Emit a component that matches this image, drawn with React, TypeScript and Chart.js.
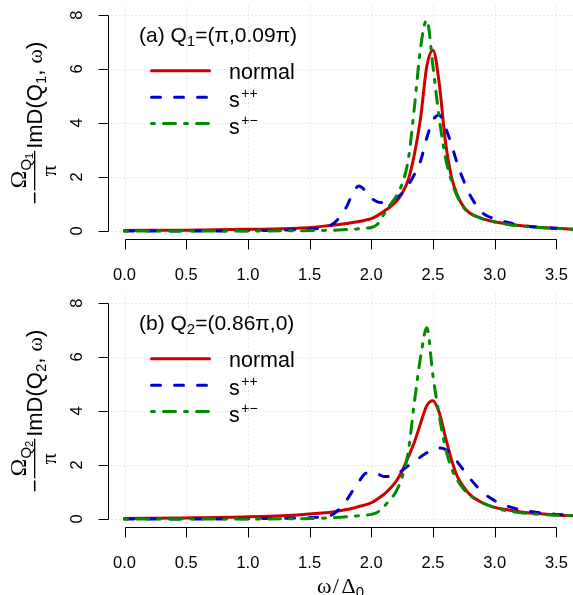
import React, { useEffect, useRef } from 'react';
import { Chart, registerables } from 'chart.js';

Chart.register(...registerables);

// ---------- data ----------
const OMEGA = [0, 0.5, 1.0, 1.4, 1.6, 1.7, 1.8, 1.85, 1.9, 1.95, 2.0, 2.05, 2.1, 2.15, 2.2, 2.25, 2.3, 2.35, 2.4, 2.45, 2.5, 2.55, 2.6, 2.65, 2.7, 2.75, 2.8, 2.9, 3.0, 3.1, 3.2, 3.35, 3.5, 3.65];

const A_NORMAL = [0.02, 0.03, 0.06, 0.10, 0.17, 0.22, 0.28, 0.31, 0.35, 0.40, 0.46, 0.57, 0.72, 0.88, 1.08, 1.40, 1.90, 2.85, 4.20, 6.10, 6.70, 5.50, 3.35, 2.00, 1.30, 0.88, 0.66, 0.46, 0.34, 0.26, 0.20, 0.14, 0.10, 0.06];
const A_SPP = [0.00, 0.00, 0.01, 0.05, 0.12, 0.30, 0.90, 1.40, 1.67, 1.50, 1.22, 1.08, 1.05, 1.08, 1.20, 1.40, 1.70, 2.10, 2.60, 3.45, 4.10, 4.30, 3.85, 3.20, 2.45, 1.85, 1.33, 0.68, 0.45, 0.32, 0.22, 0.14, 0.10, 0.06];
const A_SPM = [0.00, 0.00, 0.00, 0.01, 0.02, 0.03, 0.05, 0.06, 0.08, 0.10, 0.13, 0.25, 0.60, 0.95, 1.27, 1.75, 2.65, 4.60, 6.80, 7.82, 6.10, 4.20, 2.75, 1.85, 1.25, 0.86, 0.66, 0.45, 0.33, 0.25, 0.19, 0.13, 0.09, 0.06];

const B_NORMAL = [0.02, 0.04, 0.08, 0.15, 0.22, 0.27, 0.35, 0.40, 0.46, 0.52, 0.60, 0.74, 0.90, 1.12, 1.38, 1.78, 2.30, 2.85, 3.55, 4.20, 4.38, 3.95, 3.05, 2.20, 1.55, 1.18, 0.90, 0.60, 0.43, 0.34, 0.27, 0.20, 0.15, 0.12];
const B_SPP = [0.00, 0.00, 0.01, 0.04, 0.08, 0.20, 0.70, 1.05, 1.38, 1.68, 1.72, 1.68, 1.57, 1.58, 1.67, 1.80, 1.97, 2.12, 2.30, 2.45, 2.58, 2.63, 2.58, 2.40, 2.10, 1.80, 1.50, 1.00, 0.68, 0.48, 0.35, 0.24, 0.17, 0.12];
const B_SPM = [0.00, 0.00, 0.00, 0.01, 0.03, 0.05, 0.08, 0.10, 0.12, 0.14, 0.17, 0.25, 0.45, 0.70, 1.01, 1.55, 2.50, 4.35, 6.00, 7.08, 5.30, 3.85, 2.65, 1.88, 1.42, 1.10, 0.87, 0.60, 0.42, 0.30, 0.24, 0.17, 0.14, 0.12];

const X_TICKS = [0, 0.5, 1.0, 1.5, 2.0, 2.5, 3.0, 3.5];
const Y_TICKS = [0, 2, 4, 6, 8];
const SERIES_NAMES = ['normal', 's', 's'];
const SERIES_SUPS = ['', '++', '+\u2212'];

// ---------- styles ----------
const SANS = '"Liberation Sans", Arial, Helvetica, sans-serif';
const SERIF = '"Liberation Serif", "Times New Roman", serif';
const COLORS = ['#CD0000', '#0000CD', '#008B00'];
const DASHES: number[][] = [[], [9, 14], [3, 9, 12, 9]];
const LINE_W = 3;
const TICK_FONT = `16.5px ${SANS}`;

const X_MIN = -0.138;
const X_MAX = 3.635;
const Y_MIN = -0.32;
const Y_MAX = 8.32;

const PANELS = [
  { top: 0, height: 285, padTop: 6.4, padBottom: 45.4, label: '(a) Q', labelSub: '1', labelRest: '=(\u03C0,0.09\u03C0)', qSub: '1', series: [A_NORMAL, A_SPP, A_SPM], xTitle: false },
  { top: 285, height: 310, padTop: 9.4, padBottom: 67.4, label: '(b) Q', labelSub: '2', labelRest: '=(0.86\u03C0,0)', qSub: '2', series: [B_NORMAL, B_SPP, B_SPM], xTitle: true },
];

type Run = { t: string; font: string; dy?: number; gap?: number };

function runsWidth(ctx: CanvasRenderingContext2D, runs: Run[]) {
  let w = 0;
  for (const r of runs) { ctx.font = r.font; w += ctx.measureText(r.t).width + (r.gap || 0); }
  return w;
}
function drawRuns(ctx: CanvasRenderingContext2D, x: number, y: number, runs: Run[]) {
  let cx = x;
  for (const r of runs) {
    ctx.font = r.font;
    ctx.fillText(r.t, cx, y + (r.dy || 0));
    cx += ctx.measureText(r.t).width + (r.gap || 0);
  }
  return cx;
}

function makePlugin(panel: any) {
  return {
    id: 'rstyle',
    beforeDatasetsDraw(chart: any) {
      const { ctx, chartArea: a } = chart;
      const xs = chart.scales.x, ys = chart.scales.y;
      ctx.save();
      ctx.strokeStyle = '#D3D3D3';
      ctx.lineWidth = 1;
      ctx.setLineDash([1, 3]);
      for (const v of X_TICKS) {
        const px = Math.round(xs.getPixelForValue(v)) + 0.5;
        ctx.beginPath(); ctx.moveTo(px, a.top); ctx.lineTo(px, a.bottom); ctx.stroke();
      }
      for (const v of Y_TICKS) {
        const py = Math.round(ys.getPixelForValue(v)) + 0.5;
        ctx.beginPath(); ctx.moveTo(a.left, py); ctx.lineTo(a.right, py); ctx.stroke();
      }
      ctx.restore();
    },
    afterDatasetsDraw(chart: any) {
      const { ctx, chartArea: a } = chart;
      const xs = chart.scales.x, ys = chart.scales.y;
      ctx.save();
      ctx.setLineDash([]);
      ctx.strokeStyle = '#000';
      ctx.fillStyle = '#000';
      ctx.lineWidth = 1;
      ctx.lineCap = 'butt';

      // y axis
      const ax = Math.round(a.left) + 0.5;
      const y0 = Math.round(ys.getPixelForValue(Y_TICKS[0])) + 0.5;
      const y1 = Math.round(ys.getPixelForValue(Y_TICKS[Y_TICKS.length - 1])) + 0.5;
      ctx.beginPath(); ctx.moveTo(ax, y0); ctx.lineTo(ax, y1); ctx.stroke();
      ctx.font = TICK_FONT;
      ctx.textAlign = 'center';
      ctx.textBaseline = 'alphabetic';
      for (const v of Y_TICKS) {
        const py = Math.round(ys.getPixelForValue(v)) + 0.5;
        ctx.beginPath(); ctx.moveTo(ax, py); ctx.lineTo(ax - 10, py); ctx.stroke();
        ctx.save();
        ctx.translate(82, ys.getPixelForValue(v));
        ctx.rotate(-Math.PI / 2);
        ctx.fillText(String(v), 0, 0);
        ctx.restore();
      }

      // x axis
      const ay = Math.round(a.bottom) - 0.5;
      const x0 = Math.round(xs.getPixelForValue(X_TICKS[0])) + 0.5;
      const x1 = Math.round(xs.getPixelForValue(X_TICKS[X_TICKS.length - 1])) + 0.5;
      ctx.beginPath(); ctx.moveTo(x0, ay); ctx.lineTo(x1, ay); ctx.stroke();
      for (const v of X_TICKS) {
        const px = Math.round(xs.getPixelForValue(v)) + 0.5;
        ctx.beginPath(); ctx.moveTo(px, ay); ctx.lineTo(px, ay + 10); ctx.stroke();
        ctx.fillText(v.toFixed(1), xs.getPixelForValue(v), a.bottom + 40.5);
      }

      const top8 = ys.getPixelForValue(8);
      ctx.textAlign = 'left';

      // panel title
      drawRuns(ctx, 139, top8 + 27.3, [
        { t: panel.label, font: `21px ${SANS}` },
        { t: panel.labelSub, font: `15px ${SANS}`, dy: 4 },
        { t: panel.labelRest, font: `21px ${SANS}` },
      ]);

      // legend
      const lineOff = [55.8, 82.2, 108.5];
      const textOff = [8, 10, 10];
      for (let i = 0; i < 3; i++) {
        const ly = top8 + lineOff[i];
        ctx.save();
        ctx.strokeStyle = COLORS[i];
        ctx.lineWidth = LINE_W;
        ctx.lineCap = 'round';
        ctx.setLineDash(DASHES[i]);
        ctx.beginPath(); ctx.moveTo(151.5, ly); ctx.lineTo(209.5, ly); ctx.stroke();
        ctx.restore();
        const tb = ly + textOff[i];
        const endX = drawRuns(ctx, 229, tb, [{ t: SERIES_NAMES[i], font: `21.5px ${SANS}` }]);
        if (SERIES_SUPS[i]) {
          ctx.font = `14px ${SANS}`;
          ctx.fillText(SERIES_SUPS[i], endX + 1.5, tb - 9);
        }
      }

      // y-axis title (rotated math expression)
      {
        const cy = (ys.getPixelForValue(0) + ys.getPixelForValue(8)) / 2;
        const fMain = `22px ${SANS}`;
        const fSer = `22px ${SERIF}`;
        const fSub = `15px ${SANS}`;
        const fSub2 = `11px ${SANS}`;
        const minus: Run[] = [{ t: '\u2212', font: fMain }];
        const num: Run[] = [{ t: '\u03A9', font: `24px ${SERIF}` }, { t: 'Q', font: fSub, dy: 5 }, { t: panel.qSub, font: fSub2, dy: 7.5 }];
        const den: Run[] = [{ t: '\u03C0', font: fSer }];
        const main: Run[] = [{ t: 'ImD(Q', font: fMain }, { t: panel.qSub, font: fSub, dy: 4 }, { t: ', ', font: fMain }, { t: '\u03C9', font: fSer }, { t: ')', font: fMain }];
        const wm = runsWidth(ctx, minus);
        const wn = runsWidth(ctx, num);
        const wd = runsWidth(ctx, den);
        const W = Math.max(wn, wd) + 4;
        const wMain = runsWidth(ctx, main);
        const g1 = 1, g2 = 2;
        const L = wm + g1 + W + g2 + wMain;
        ctx.save();
        ctx.translate(0, cy);
        ctx.rotate(-Math.PI / 2);
        let lx = -L / 2;
        drawRuns(ctx, lx, 41.5, minus);
        lx += wm + g1;
        drawRuns(ctx, lx + (W - wn) / 2, 25.5, num);
        drawRuns(ctx, lx + (W - wd) / 2, 55.5, den);
        ctx.fillRect(lx, 34, W, 1.3);
        lx += W + g2;
        drawRuns(ctx, lx, 41.5, main);
        ctx.restore();
      }

      // x-axis title
      if (panel.xTitle) {
        const runs: Run[] = [
          { t: '\u03C9', font: `22px ${SERIF}`, gap: 1.5 },
          { t: '/', font: `22px ${SERIF}`, gap: 2.5 },
          { t: '\u0394', font: `22px ${SERIF}` },
          { t: '0', font: `15px ${SANS}`, dy: 4 },
        ];
        const w = runsWidth(ctx, runs);
        const cx = (xs.getPixelForValue(X_TICKS[0]) + xs.getPixelForValue(X_TICKS[X_TICKS.length - 1])) / 2;
        drawRuns(ctx, cx - w / 2, a.bottom + 65.4, runs);
      }
      ctx.restore();
    },
  };
}

function Panel({ panel }: { panel: any }) {
  const ref = useRef<HTMLCanvasElement | null>(null);
  useEffect(() => {
    const canvas = ref.current;
    if (!canvas) return;
    const datasets = panel.series.map((vals: number[], i: number) => ({
      label: SERIES_NAMES[i] + SERIES_SUPS[i],
      data: OMEGA.map((x, k) => ({ x, y: vals[k] })),
      borderColor: COLORS[i],
      backgroundColor: COLORS[i],
      borderWidth: LINE_W,
      borderDash: DASHES[i],
      borderCapStyle: 'round',
      borderJoinStyle: 'round',
      pointRadius: 0,
      fill: false,
      cubicInterpolationMode: 'monotone',
      order: 3 - i,
    }));
    const chart = new Chart(canvas, {
      type: 'line',
      data: { datasets },
      options: {
        responsive: false,
        animation: false,
        devicePixelRatio: 1,
        events: [],
        layout: { padding: { left: 107.5, right: 0, top: panel.padTop, bottom: panel.padBottom } },
        plugins: { legend: { display: false }, tooltip: { enabled: false } },
        scales: {
          x: { type: 'linear', min: X_MIN, max: X_MAX, display: false },
          y: { type: 'linear', min: Y_MIN, max: Y_MAX, display: false },
        },
      } as any,
      plugins: [makePlugin(panel)],
    } as any);
    return () => chart.destroy();
  }, [panel]);
  return (
    <canvas
      ref={ref}
      width={573}
      height={panel.height}
      style={{ position: 'absolute', left: 0, top: panel.top, width: 573, height: panel.height }}
    />
  );
}

export default function App() {
  return (
    <div style={{ position: 'fixed', left: 0, top: 0, width: 573, height: 595, background: '#fff', overflow: 'hidden' }}>
      {PANELS.map((p, i) => <Panel key={i} panel={p} />)}
    </div>
  );
}
